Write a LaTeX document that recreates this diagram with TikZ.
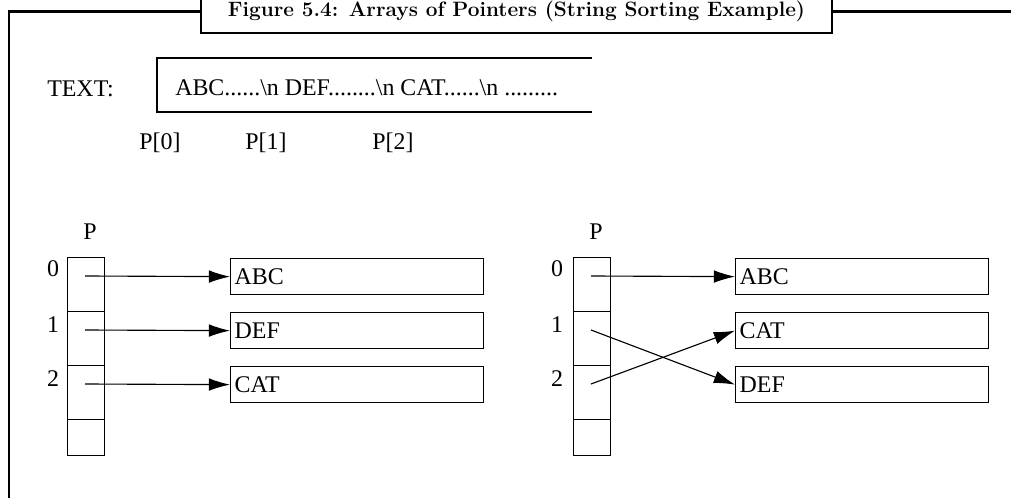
\documentclass[tikz,border=0pt]{standalone}
\usepackage{fontspec}
\usepackage{tikz}
\usetikzlibrary{arrows.meta}
\newfontfamily\figfont{Liberation Serif}

\tikzset{
  frame/.style={line width=1.8pt},
  cell/.style={draw, line width=0.9pt, minimum width=0.925cm, minimum height=1.35cm, inner sep=0pt, anchor=north west},
  lastcell/.style={cell, minimum height=0.9cm},
  strbox/.style={draw, line width=0.9pt, text width=6.125cm, minimum height=0.9cm, inner xsep=0.1cm, align=left, anchor=north west, font=\figfont\fontsize{17}{19}\selectfont},
  lbl/.style={font=\figfont\fontsize{17}{19}\selectfont, inner sep=0pt, anchor=base},
  ptr/.style={line width=0.8pt, -{Latex[length=15pt,width=9pt]}},
}

\begin{document}
\begin{tikzpicture}[x=0.025cm, y=-0.025cm]
        \useasboundingbox (0,0) rectangle (1011,498);

        % title and outer frame
        \node[draw, frame, minimum width=15.775cm, minimum height=1.075cm, inner sep=0pt,
              font=\fontsize{14.8}{17}\selectfont\bfseries] (title) at (516.5,11.5)
              {Figure 5.4: Arrays of Pointers (String Sorting Example)};
        \draw[frame] (9,505) |- (title.west);
        \draw[frame] (title.east) -- (1020,11.5);

        % the text buffer
        \node[lbl, anchor=base west] (textlbl) at (47,97) {TEXT:};
        \draw[line width=0.9pt] (592,58) -| (157,112) -- (592,112);
        \node[lbl, anchor=base west] (buf) at (175,96) {ABC......\textbackslash n DEF........\textbackslash n CAT......\textbackslash n .........};
        \node[lbl] (p0) at (160,150) {P[0]};
        \node[lbl] (p1) at (266,150) {P[1]};
        \node[lbl] (p2) at (393,150) {P[2]};

        % left: before sorting
        \node[lbl] (pl) at (90,240) {P};
        \node[cell] (l0) at (67,257) {};
        \node[cell] (l1) at (67,311) {};
        \node[cell] (l2) at (67,365) {};
        \node[lastcell] (l3) at (67,419) {};
        \node[lbl] (il0) at (53,277) {0};
        \node[lbl] (il1) at (53,332) {1};
        \node[lbl] (il2) at (53,386) {2};

        \node[strbox] (abc) at (230,258) {ABC};
        \node[strbox] (def) at (230,312) {DEF};
        \node[strbox] (cat) at (230,366) {CAT};

        \coordinate (sl0) at (85,276);
        \coordinate (sl1) at (85,330);
        \coordinate (sl2) at (85,384);
        \path [ptr](sl0) edge (abc.west);
        \path [ptr](sl1) edge (def.west);
        \path [ptr](sl2) edge (cat.west);

        % right: after sorting
        \node[lbl] (pr) at (596,240) {P};
        \node[cell] (r0) at (573,257) {};
        \node[cell] (r1) at (573,311) {};
        \node[cell] (r2) at (573,365) {};
        \node[lastcell] (r3) at (573,419) {};
        \node[lbl] (ir0) at (557,277) {0};
        \node[lbl] (ir1) at (557,332) {1};
        \node[lbl] (ir2) at (557,386) {2};

        \node[strbox] (abc2) at (735,258) {ABC};
        \node[strbox] (cat2) at (735,312) {CAT};
        \node[strbox] (def2) at (735,366) {DEF};

        \coordinate (sr0) at (591,276);
        \coordinate (sr1) at (591,330);
        \coordinate (sr2) at (591,384);
        \path [ptr](sr0) edge (abc2.west);
        \path [ptr](sr1) edge (def2.west);
        \path [ptr](sr2) edge (cat2.west);
    \end{tikzpicture}
\end{document}
